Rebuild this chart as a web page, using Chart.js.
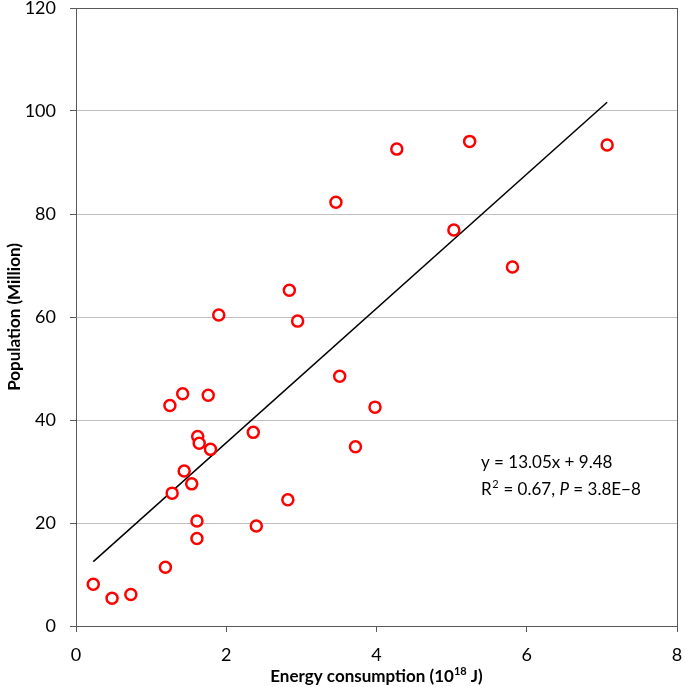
<!DOCTYPE html>
<html>
<head>
<meta charset="utf-8">
<script src="https://cdn.jsdelivr.net/npm/chart.js@4/dist/chart.umd.min.js"></script>
<style>
html,body{margin:0;padding:0;background:#fff;}
#wrap{width:685px;height:687px;position:relative;}
</style>
</head>
<body>
<div id="wrap"><canvas id="c" width="685" height="687"></canvas></div>
<script>
// Energy consumption (10^18 J)
const energy = [0.23,0.48,0.73,1.19,1.25,1.28,1.42,1.44,1.54,1.62,1.64,1.61,1.61,1.76,1.79,1.90,2.36,2.40,2.82,2.84,2.95,3.46,3.51,3.72,3.98,4.27,5.03,5.24,5.81,7.07];
// Population (Million)
const population = [8.1,5.4,6.1,11.4,42.8,25.8,45.1,30.1,27.6,36.8,35.5,20.4,17.0,44.8,34.3,60.4,37.6,19.4,24.5,65.2,59.2,82.3,48.5,34.8,42.5,92.6,76.9,94.1,69.7,93.4];
// Fitted line endpoints
const fitX = [0.23, 7.07];
const fitY = [12.5, 101.7];
const xTicks = [0,2,4,6,8];
const yTicks = [0,20,40,60,80,100,120];
const xTitle = ["Energy consumption (10", "18", " J)"];
const yTitle = "Population (Million)";
const eqLine1 = "y = 13.05x + 9.48";
const eqLine2 = ["R", "2", " = 0.67, ", "P", " = 3.8E\u22128"];

const FONT = "Lato, 'Open Sans', sans-serif";
const DARK = '#595959';
const GRID = '#bfbfbf';

const pts = energy.map((x,i)=>({x:x,y:population[i]}));
const fit = fitX.map((x,i)=>({x:x,y:fitY[i]}));

const annot = {
  id:'annot',
  afterDraw(chart){
    const ctx = chart.ctx;
    const ca = chart.chartArea;
    ctx.save();
    ctx.fillStyle = '#000';
    ctx.textBaseline = 'alphabetic';
    ctx.textAlign = 'left';
    // equation
    ctx.font = "17px " + FONT;
    const x0 = 481;
    ctx.fillText(eqLine1, x0, 468);
    let x = x0, yb = 495;
    ctx.fillText(eqLine2[0], x, yb); x += ctx.measureText(eqLine2[0]).width;
    ctx.font = "11px " + FONT;
    ctx.fillText(eqLine2[1], x+0.5, yb-7); x += ctx.measureText(eqLine2[1]).width+1;
    ctx.font = "17px " + FONT;
    ctx.fillText(eqLine2[2], x, yb); x += ctx.measureText(eqLine2[2]).width;
    ctx.font = "italic 17px " + FONT;
    ctx.fillText(eqLine2[3], x, yb); x += ctx.measureText(eqLine2[3]).width;
    ctx.font = "17px " + FONT;
    ctx.fillText(eqLine2[4], x, yb);
    // x title
    const big = "bold 17px " + FONT, small = "bold 11px " + FONT;
    ctx.font = big; const w0 = ctx.measureText(xTitle[0]).width, w2 = ctx.measureText(xTitle[2]).width;
    ctx.font = small; const w1 = ctx.measureText(xTitle[1]).width;
    const tw = w0+w1+w2;
    let tx = (ca.left+ca.right)/2 - tw/2, ty = 682;
    ctx.font = big; ctx.fillText(xTitle[0], tx, ty); tx += w0;
    ctx.font = small; ctx.fillText(xTitle[1], tx, ty-7); tx += w1;
    ctx.font = big; ctx.fillText(xTitle[2], tx, ty);
    // y title
    ctx.translate(15, (ca.top+ca.bottom)/2);
    ctx.rotate(-Math.PI/2);
    ctx.font = big; ctx.textAlign='center'; ctx.textBaseline='middle';
    ctx.fillText(yTitle, 0, 0);
    ctx.restore();
  }
};

new Chart(document.getElementById('c'), {
  type:'scatter',
  data:{
    datasets:[
      {type:'line', data:fit, borderColor:'#000', borderWidth:1.5, pointRadius:0, fill:false, order:2},
      {data:pts, pointStyle:'circle', pointRadius:5.5, pointBorderWidth:2.5, pointBorderColor:'#ff0000', pointBackgroundColor:'#ffffff', order:1}
    ]
  },
  options:{
    responsive:false,
    animation:false,
    layout:{padding:{top:7,right:6,left:0,bottom:0}},
    plugins:{legend:{display:false}, tooltip:{enabled:false}},
    scales:{
      x:{
        type:'linear', min:0, max:8,
        afterBuildTicks(s){ s.ticks = xTicks.map(v=>({value:v})); },
        afterFit(s){ s.height = 61; s.paddingLeft = 0; s.paddingRight = 0; },
        border:{display:true,color:DARK,width:1},
        grid:{
          color:(c)=> (c.tick && c.tick.value===8) ? DARK : 'rgba(0,0,0,0)',
          tickColor:DARK, tickLength:6, drawTicks:true
        },
        ticks:{color:'#000', font:{family:FONT,size:18}, padding:12, maxRotation:0},
        title:{display:false}
      },
      y:{
        type:'linear', min:0, max:120,
        afterBuildTicks(s){ s.ticks = yTicks.map(v=>({value:v})); },
        afterFit(s){ s.width = 76; s.paddingTop = 0; s.paddingBottom = 0; },
        border:{display:true,color:DARK,width:1},
        grid:{
          color:(c)=> (c.tick && c.tick.value===120) ? DARK : GRID,
          tickColor:DARK, tickLength:6, drawTicks:true
        },
        ticks:{color:'#000', font:{family:FONT,size:18}, padding:14},
        title:{display:false}
      }
    }
  },
  plugins:[annot]
});
</script>
</body>
</html>
